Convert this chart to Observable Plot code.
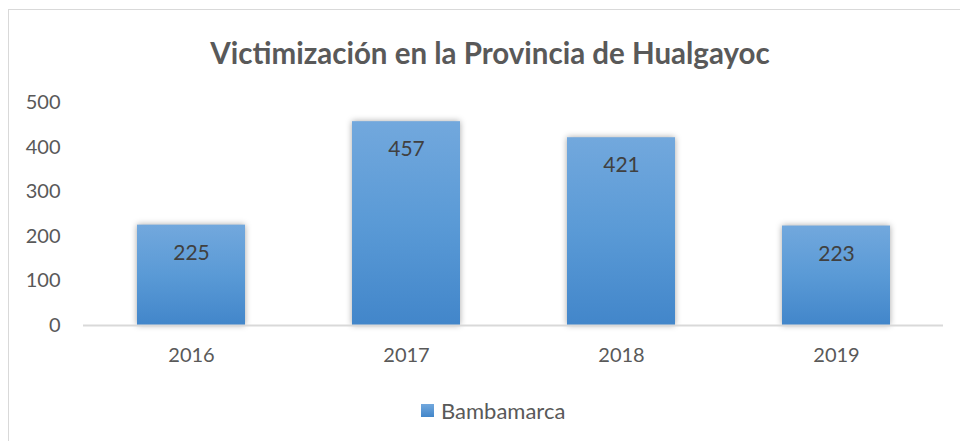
<!DOCTYPE html>
<html><head><meta charset="utf-8">
<script src="https://cdn.jsdelivr.net/npm/d3@7"></script>
<script src="https://cdn.jsdelivr.net/npm/@observablehq/plot@0.6"></script>
<style>
body{margin:0;background:#fff;font-family:Lato,"Open Sans",sans-serif;}
#wrap{position:relative;width:960px;height:441px;overflow:hidden;background:#fff;}
#frame{position:absolute;left:8px;top:9px;width:980px;height:460px;border:1.5px solid #d9d9d9;box-sizing:border-box;}
#title{position:absolute;left:0;top:35px;width:980px;text-align:center;font-weight:bold;font-size:29.5px;color:#595959;}
#chart{position:absolute;left:0;top:80px;}
#legend{position:absolute;left:421px;top:397px;font-size:22px;color:#595959;display:flex;align-items:center;}
#legend span.sw{display:inline-block;width:13px;height:13px;background:linear-gradient(#72a8dd,#4286ca);margin-right:7px;}
</style></head>
<body>
<div id="wrap">
<div id="frame"></div>
<div id="title">Victimización en la Provincia de Hualgayoc</div>
<div id="chart"></div>
<div id="legend"><span class="sw"></span><span id="legtext"></span></div>
</div>
<script>
const years = ["2016","2017","2018","2019"];
const values = [225, 457, 421, 223];
const yTicks = [0,100,200,300,400,500];
const seriesName = "Bambamarca";

const data = years.map((y,i)=>({year:y, value:values[i]}));
document.getElementById("legtext").textContent = seriesName;

const plot = Plot.plot({
  width: 960,
  height: 300,
  marginLeft: 83,
  marginRight: 17,
  marginTop: 22,
  marginBottom: 55,
  style: {fontFamily: "Lato, 'Open Sans', sans-serif", background: "transparent"},
  x: {domain: years, paddingInner: 0.5, paddingOuter: 0.25, align: 0.5, label: null},
  y: {domain: [0, 500], label: null},
  marks: [
    Plot.axisY({ticks: yTicks, tickSize: 0, tickPadding: 23, fontSize: 20, fill: "#595959", label: null}),
    Plot.axisX({tickSize: 0, tickPadding: 22, fontSize: 20, fill: "#595959", label: null}),
    Plot.barY(data, {x: "year", y: "value", fill: "url(#barGrad)", className: "bars"}),
    Plot.ruleY([0], {stroke: "#d9d9d9", strokeWidth: 2}),
    Plot.text(data, {x: "year", y: "value", text: d => String(d.value), dy: 28, fontSize: 21, fill: "#404040"})
  ]
});

// gradient + shadow
const svgNS = "http://www.w3.org/2000/svg";
const defs = document.createElementNS(svgNS, "defs");
defs.innerHTML = `<linearGradient id="barGrad" x1="0" y1="0" x2="0" y2="1">
  <stop offset="0" stop-color="#72a8dd"/><stop offset="0.5" stop-color="#5a9ad6"/><stop offset="1" stop-color="#4286ca"/>
</linearGradient>`;
plot.insertBefore(defs, plot.firstChild);
plot.querySelectorAll("g.bars, g[aria-label='bar']").forEach(g => g.style.filter = "drop-shadow(0px 0px 3px rgba(0,0,0,0.35))");
document.getElementById("chart").appendChild(plot);
</script>
</body></html>
